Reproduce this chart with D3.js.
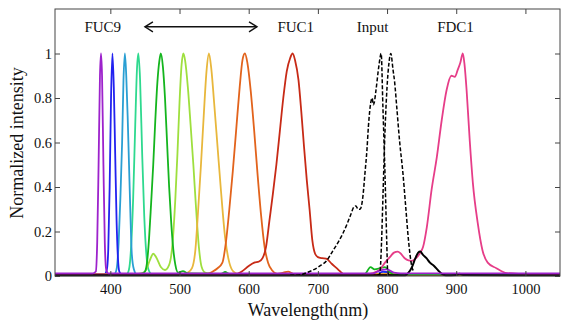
<!DOCTYPE html>
<html>
<head>
<meta charset="utf-8">
<script src="https://cdn.jsdelivr.net/npm/d3@7"></script>
<style>
  body { margin: 0; background: #fff; }
  svg text { font-family: "Liberation Serif", "Times New Roman", serif; fill: #111; }
</style>
</head>
<body>
<div id="chart"></div>
<script>
// spectra: [wavelength nm, normalized intensity]
const fuc9 = [[320,0.012],[375,0.012],[379,0.02],[381,0.15],[383,0.5],[385,0.9],[386.5,1],[388,0.9],[390,0.5],[392,0.15],[394,0.03],[397,0.012],[780,0.012],[790,0.025],[800,0.03],[810,0.015],[820,0.012],[1050,0.012]];
const fuc8 = [[320,0.008],[392,0.01],[395,0.03],[397,0.12],[399,0.4],[401,0.8],[403,1],[405,0.85],[407,0.55],[409,0.25],[411,0.08],[413,0.02],[416,0.008],[785,0.008],[795,0.02],[805,0.015],[815,0.008],[1050,0.008]];
const fuc7 = [[320,0.008],[406,0.01],[409,0.03],[412,0.15],[414.5,0.35],[417,0.6],[419,0.88],[421,1],[423,0.9],[425,0.72],[427,0.5],[429,0.28],[431,0.1],[434,0.03],[438,0.008],[790,0.008],[798,0.015],[806,0.008],[1050,0.008]];
const fuc6 = [[320,0.008],[424,0.01],[427,0.03],[430,0.13],[433,0.35],[436,0.68],[438.5,0.93],[440.5,1],[443,0.88],[446,0.55],[449,0.27],[452,0.1],[455,0.03],[460,0.008],[1050,0.008]];
const fuc5 = [[320,0.008],[445,0.01],[450,0.02],[453,0.06],[456,0.17],[459,0.33],[462,0.5],[465,0.7],[468,0.87],[471,0.97],[473,1],[476,0.94],[479,0.8],[482,0.6],[485,0.4],[488,0.24],[491,0.12],[494,0.05],[498,0.015],[505,0.022],[512,0.012],[560,0.01],[566,0.018],[572,0.01],[768,0.01],[776,0.04],[782,0.03],[790,0.035],[797,0.04],[803,0.02],[810,0.006],[1050,0.006]];
const fuc4 = [[320,0.01],[440,0.01],[448,0.015],[452,0.03],[457,0.07],[462,0.1],[467,0.08],[473,0.04],[479,0.027],[485,0.05],[490,0.15],[494,0.35],[497,0.55],[500,0.78],[503,0.95],[505.5,1],[508,0.97],[512,0.85],[516,0.68],[520,0.5],[524,0.3],[528,0.13],[532,0.04],[537,0.015],[545,0.01],[1050,0.01]];
const fuc3 = [[320,0.01],[505,0.01],[512,0.015],[518,0.035],[523,0.12],[527,0.3],[531,0.5],[535,0.72],[539,0.92],[542.5,1],[546,0.93],[550,0.78],[555,0.58],[560,0.38],[566,0.17],[572,0.06],[578,0.02],[585,0.01],[1050,0.01]];
const fuc2 = [[320,0.01],[540,0.01],[548,0.02],[555,0.035],[562,0.06],[567,0.15],[572,0.3],[577,0.47],[582,0.66],[587,0.85],[591,0.97],[594.5,1],[598,0.96],[603,0.83],[608,0.65],[613,0.45],[618,0.27],[623,0.13],[628,0.06],[634,0.025],[641,0.01],[650,0.015],[657,0.02],[664,0.01],[672,0.006],[1050,0.006]];
const fuc1 = [[320,0.006],[580,0.006],[590,0.02],[600,0.045],[608,0.06],[615,0.065],[620,0.08],[625,0.13],[630,0.25],[635,0.37],[640,0.5],[645,0.65],[650,0.8],[655,0.92],[660,0.98],[663.5,1],[667,0.97],[672,0.88],[676,0.74],[680,0.58],[684,0.43],[688,0.3],[692,0.16],[696,0.1],[700,0.085],[706,0.08],[712,0.078],[720,0.055],[729,0.03],[736,0.01],[742,0.004],[1050,0.004]];
const fdc1 = [[320,0.008],[770,0.008],[778,0.012],[789,0.027],[797,0.06],[804,0.085],[810,0.105],[815.5,0.11],[820,0.1],[825.5,0.08],[831,0.07],[836,0.068],[842,0.08],[847,0.1],[852,0.13],[857.5,0.22],[864.5,0.39],[872,0.535],[879,0.7],[886,0.835],[893,0.9],[898,0.895],[902,0.925],[906,0.96],[909.5,1],[912,0.95],[915,0.835],[919.5,0.61],[924,0.42],[931,0.24],[938,0.115],[945.5,0.06],[958,0.035],[973,0.013],[990,0.01],[1050,0.008]];
const inputA = [[660,0.003],[674,0.005],[684,0.015],[693,0.027],[703,0.045],[713,0.07],[721,0.11],[729,0.15],[736,0.19],[743,0.24],[748,0.28],[752,0.31],[755,0.315],[758,0.3],[761,0.3],[765,0.355],[768,0.46],[771,0.57],[773,0.67],[776.5,0.78],[778.5,0.8],[780,0.77],[781.5,0.78],[784,0.835],[788,0.94],[791.5,1],[794,0.76],[797,0.46],[799.5,0.16],[801,0.015],[804,0.003]];
const inputB = [[786,0.003],[789.5,0.01],[792,0.15],[794,0.35],[797,0.65],[800,0.85],[802.5,0.95],[805.5,1],[808.5,0.93],[811,0.87],[814,0.76],[818,0.61],[823,0.46],[827,0.31],[831,0.16],[836,0.04],[839,0.02]];
const inputTail = [[320,0.003],[826,0.003],[831,0.015],[836,0.04],[841,0.08],[845,0.105],[848,0.11],[852,0.095],[857,0.08],[862,0.06],[868,0.045],[874,0.025],[880,0.008],[885,0.003],[900,0.005],[905,0.01],[910,0.004],[1050,0.003]];

const xTicks = [400, 500, 600, 700, 800, 900, 1000];
const yTicks = [0, 0.2, 0.4, 0.6, 0.8, 1];
// top annotations: [text, wavelength, intensity]
const labels = [["FUC9", 389, 1.096], ["FUC1", 668, 1.096], ["Input", 779, 1.096], ["FDC1", 899, 1.096]];
const arrowSpan = [450, 612, 1.12];

const width = 561, height = 322;
const margin = {top: 9, right: 1, bottom: 46, left: 55};
const serif = '"Liberation Serif", "Times New Roman", serif';

const x = d3.scaleLinear().domain([320, 1050]).range([margin.left, width - margin.right]);
const y = d3.scaleLinear().domain([0, 1.2]).range([height - margin.bottom, margin.top]);

const svg = d3.select('#chart').append('svg')
  .attr('width', width)
  .attr('height', height)
  .attr('font-family', serif);

const line = d3.line()
  .x(d => x(d[0]))
  .y(d => y(d[1]))
  .curve(d3.curveMonotoneX);

const series = [
  {data: fuc6, color: '#2fd98f'},
  {data: fuc7, color: '#2a9fd3'},
  {data: fuc8, color: '#2222f0'},
  {data: fuc4, color: '#9edf3e'},
  {data: fuc3, color: '#e8b73c'},
  {data: fuc2, color: '#e2631c'},
  {data: fuc1, color: '#c72a16'},
  {data: fuc5, color: '#14b51e'},
  {data: fdc1, color: '#e63d88'},
  {data: inputTail, color: '#000', width: 2},
  {data: fuc9, color: '#9d22cc'},
  {data: inputA, color: '#000', dash: '4,2', width: 1.5},
  {data: inputB, color: '#000', dash: '4,2', width: 1.5}
];

svg.append('g')
  .selectAll('path')
  .data(series)
  .join('path')
  .attr('fill', 'none')
  .attr('stroke', d => d.color)
  .attr('stroke-width', d => d.width || 1.8)
  .attr('stroke-dasharray', d => d.dash || null)
  .attr('stroke-linejoin', 'round')
  .attr('d', d => line(d.data));

// frame
svg.append('rect')
  .attr('x', x(320)).attr('y', y(1.2))
  .attr('width', x(1050) - x(320)).attr('height', y(0) - y(1.2))
  .attr('fill', 'none').attr('stroke', '#444').attr('stroke-width', 1);

const tickFont = 14.5;

svg.append('g')
  .attr('transform', `translate(0 ${y(0)})`)
  .call(d3.axisBottom(x).tickValues(xTicks).tickSizeInner(-5).tickSizeOuter(0).tickPadding(8).tickFormat(d3.format('d')));
svg.append('g')
  .attr('transform', `translate(0 ${y(1.2)})`)
  .call(d3.axisTop(x).tickValues(xTicks).tickSizeInner(-5).tickSizeOuter(0).tickFormat(''));
svg.append('g')
  .attr('transform', `translate(${x(320)} 0)`)
  .call(d3.axisLeft(y).tickValues(yTicks).tickSizeInner(-5).tickSizeOuter(0).tickPadding(3).tickFormat(d3.format('~g')));
svg.append('g')
  .attr('transform', `translate(${x(1050)} 0)`)
  .call(d3.axisRight(y).tickValues(yTicks).tickSizeInner(-5).tickSizeOuter(0).tickFormat(''));

svg.selectAll('.domain').remove();
svg.selectAll('.tick line').attr('stroke', '#444');
svg.selectAll('g').attr('font-family', serif);
svg.selectAll('.tick text')
  .attr('font-size', tickFont)
  .attr('fill', '#111');

// axis titles
svg.append('text')
  .attr('x', 308).attr('y', 316)
  .attr('text-anchor', 'middle')
  .attr('font-size', 18)
  .text('Wavelength(nm)');
svg.append('text')
  .attr('transform', 'translate(23 143) rotate(-90)')
  .attr('text-anchor', 'middle')
  .attr('font-size', 18)
  .text('Normalized intensity');

// top labels
svg.append('g')
  .selectAll('text')
  .data(labels)
  .join('text')
  .attr('x', d => x(d[1]))
  .attr('y', d => y(d[2]))
  .attr('text-anchor', 'middle')
  .attr('font-size', 15)
  .text(d => d[0]);

// double-headed arrow
const ax1 = x(arrowSpan[0]), ax2 = x(arrowSpan[1]), ay = y(arrowSpan[2]);
const arrow = svg.append('g').attr('stroke', '#111').attr('stroke-width', 1.4).attr('fill', 'none');
arrow.append('line').attr('x1', ax1).attr('x2', ax2).attr('y1', ay).attr('y2', ay);
arrow.append('path').attr('d', `M${ax1 + 8},${ay - 5}L${ax1},${ay}L${ax1 + 8},${ay + 5}`);
arrow.append('path').attr('d', `M${ax2 - 8},${ay - 5}L${ax2},${ay}L${ax2 - 8},${ay + 5}`);
</script>
</body>
</html>
